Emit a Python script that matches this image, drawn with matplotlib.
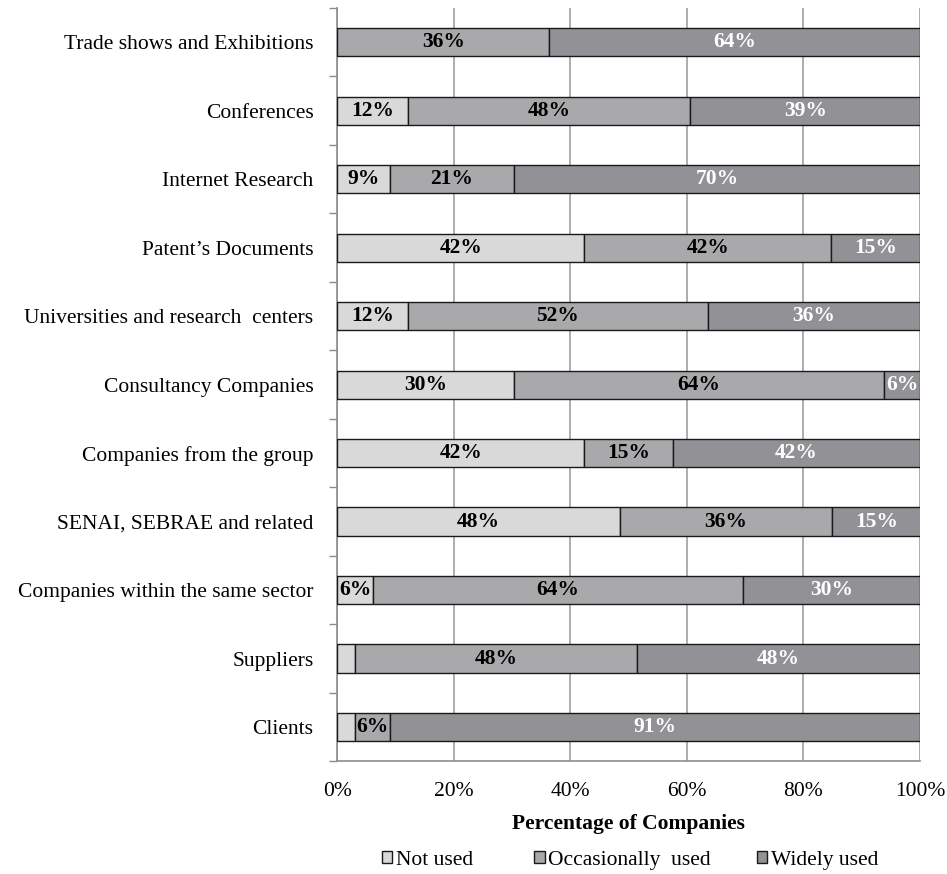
import numpy as np
import matplotlib.pyplot as plt
from matplotlib.ticker import FixedLocator, PercentFormatter

plt.rc("font", family="Liberation Serif")

categories = [
    "Trade shows and Exhibitions",
    "Conferences",
    "Internet Research",
    "Patent\u2019s Documents",
    "Universities and research  centers",
    "Consultancy Companies",
    "Companies from the group",
    "SENAI, SEBRAE and related",
    "Companies within the same sector",
    "Suppliers",
    "Clients",
]
not_used = [0.0, 12.1, 9.1, 42.4, 12.1, 30.3, 42.4, 48.5, 6.1, 3.0, 3.0]
occasionally = [36.4, 48.5, 21.2, 42.4, 51.5, 63.6, 15.2, 36.4, 63.6, 48.5, 6.1]
widely = [63.6, 39.4, 69.7, 15.2, 36.4, 6.1, 42.4, 15.2, 30.3, 48.5, 90.9]
series_names = ["Not used", "Occasionally  used", "Widely used"]

light = "#d9d9d9"
mid = "#a9a9ab"
dark = "#929195"
colors = [light, mid, dark]
text_colors = ["black", "black", "white"]
fs = 15.5

fig = plt.figure(figsize=(9.47, 8.74), dpi=100)
ax = fig.add_axes([0.356, 0.129, 0.6155, 0.862])

y = np.arange(len(categories))[::-1]
left = np.zeros(len(categories))
handles = []
for vals, name, col, tcol in zip([not_used, occasionally, widely], series_names, colors, text_colors):
    vals = np.array(vals)
    bars = ax.barh(y, vals, left=left, height=0.41, color=col, edgecolor="#1a1a1a",
                   linewidth=1.0, label=name, zorder=3)
    handles.append(bars)
    for b, v, l in zip(bars, vals, left):
        if v >= 5:
            ax.text(l + v / 2, b.get_y() + b.get_height() / 2, f"{v:.0f}%",
                    ha="center", va="center", fontsize=fs, fontweight="bold",
                    color=tcol, zorder=4)
    left = left + vals

ax.set_xlim(0, 100)
ax.set_ylim(-0.5, len(categories) - 0.5)
ax.set_xticks(np.arange(0, 101, 20))
ax.xaxis.set_major_formatter(PercentFormatter(decimals=0))
ax.tick_params(axis="x", length=0, labelsize=fs, pad=15)
ax.set_yticks(y)
ax.set_yticklabels(categories, fontsize=fs)
ax.yaxis.set_minor_locator(FixedLocator(np.arange(-0.5, len(categories), 1)))
ax.tick_params(axis="y", which="major", length=0, pad=17)
ax.tick_params(axis="y", which="minor", length=6, color="#8c8c8c", width=1)
ax.grid(axis="x", color="#a0a0a0", linewidth=1.2, zorder=0)
for s in ["top", "right"]:
    ax.spines[s].set_visible(False)
ax.spines["left"].set_color("#8c8c8c")
ax.spines["bottom"].set_color("#8c8c8c")
ax.spines["left"].set_linewidth(1.2)
ax.spines["bottom"].set_linewidth(1.2)

ax.set_xlabel("Percentage of Companies", fontsize=fs, fontweight="bold", labelpad=9)

# legend entries placed one by one, like the spreadsheet layout
for h, name, xpos in zip(handles, series_names, [0.403, 0.564, 0.799]):
    lg = fig.legend([h], [name], loc="center left", bbox_to_anchor=(xpos, 0.016),
                    frameon=False, fontsize=fs, handlelength=0.5, handleheight=0.5,
                    handletextpad=0.15, borderpad=0, borderaxespad=0)

fig.savefig("out.png", dpi=100)
